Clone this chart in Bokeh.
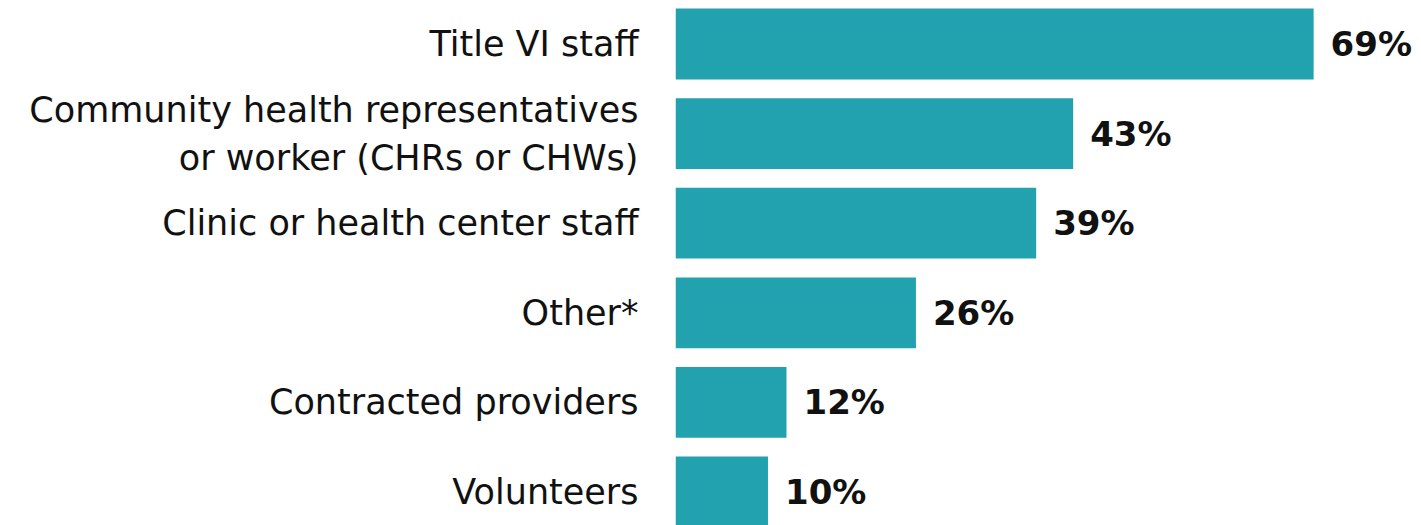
import numpy as np
from bokeh.plotting import figure
from bokeh.models import ColumnDataSource, Range1d, FixedTicker
from bokeh.core.properties import value
from bokeh.embed import file_html
from bokeh.resources import INLINE

categories = [
    "Title VI staff",
    "Community health representatives\nor worker (CHRs or CHWs)",
    "Clinic or health center staff",
    "Other*",
    "Contracted providers",
    "Volunteers",
]
percentages = [69, 43, 39, 26, 12, 10]
value_labels = [f"{v}%" for v in percentages]

positions = list(range(len(categories)))
src = ColumnDataSource(dict(pos=positions, pct=percentages, lab=value_labels))

p = figure(
    width=1413, height=525,
    x_range=Range1d(0, 79.8),
    y_range=Range1d(5.374, -0.4855),
    output_backend="svg", toolbar_location=None,
    min_border_left=675, min_border_right=0, min_border_top=0, min_border_bottom=0,
)
p.hbar(y="pos", right="pct", left=0, height=0.79, source=src,
       fill_color="#22A2AE", line_color=None)
p.text(x="pct", y="pos", text="lab", source=src, x_offset=17,
       text_baseline="middle", text_align="left",
       text_font=value("DejaVu Sans"), text_font_style="bold",
       text_font_size="34px", text_color="#111111")

p.xaxis.visible = False
p.xgrid.visible = False
p.ygrid.visible = False
p.outline_line_color = None

ax = p.yaxis[0]
ax.ticker = FixedTicker(ticks=positions)
ax.major_label_overrides = {i: c for i, c in zip(positions, categories)}
ax.axis_line_color = None
ax.major_tick_line_color = None
ax.minor_tick_line_color = None
ax.major_tick_out = 0
ax.major_label_standoff = 37
ax.major_label_text_font = "DejaVu Sans"
ax.major_label_text_font_size = "35px"
ax.major_label_text_color = "#111111"
ax.major_label_text_align = "right"

open("out.html", "w").write(file_html(p, INLINE))
